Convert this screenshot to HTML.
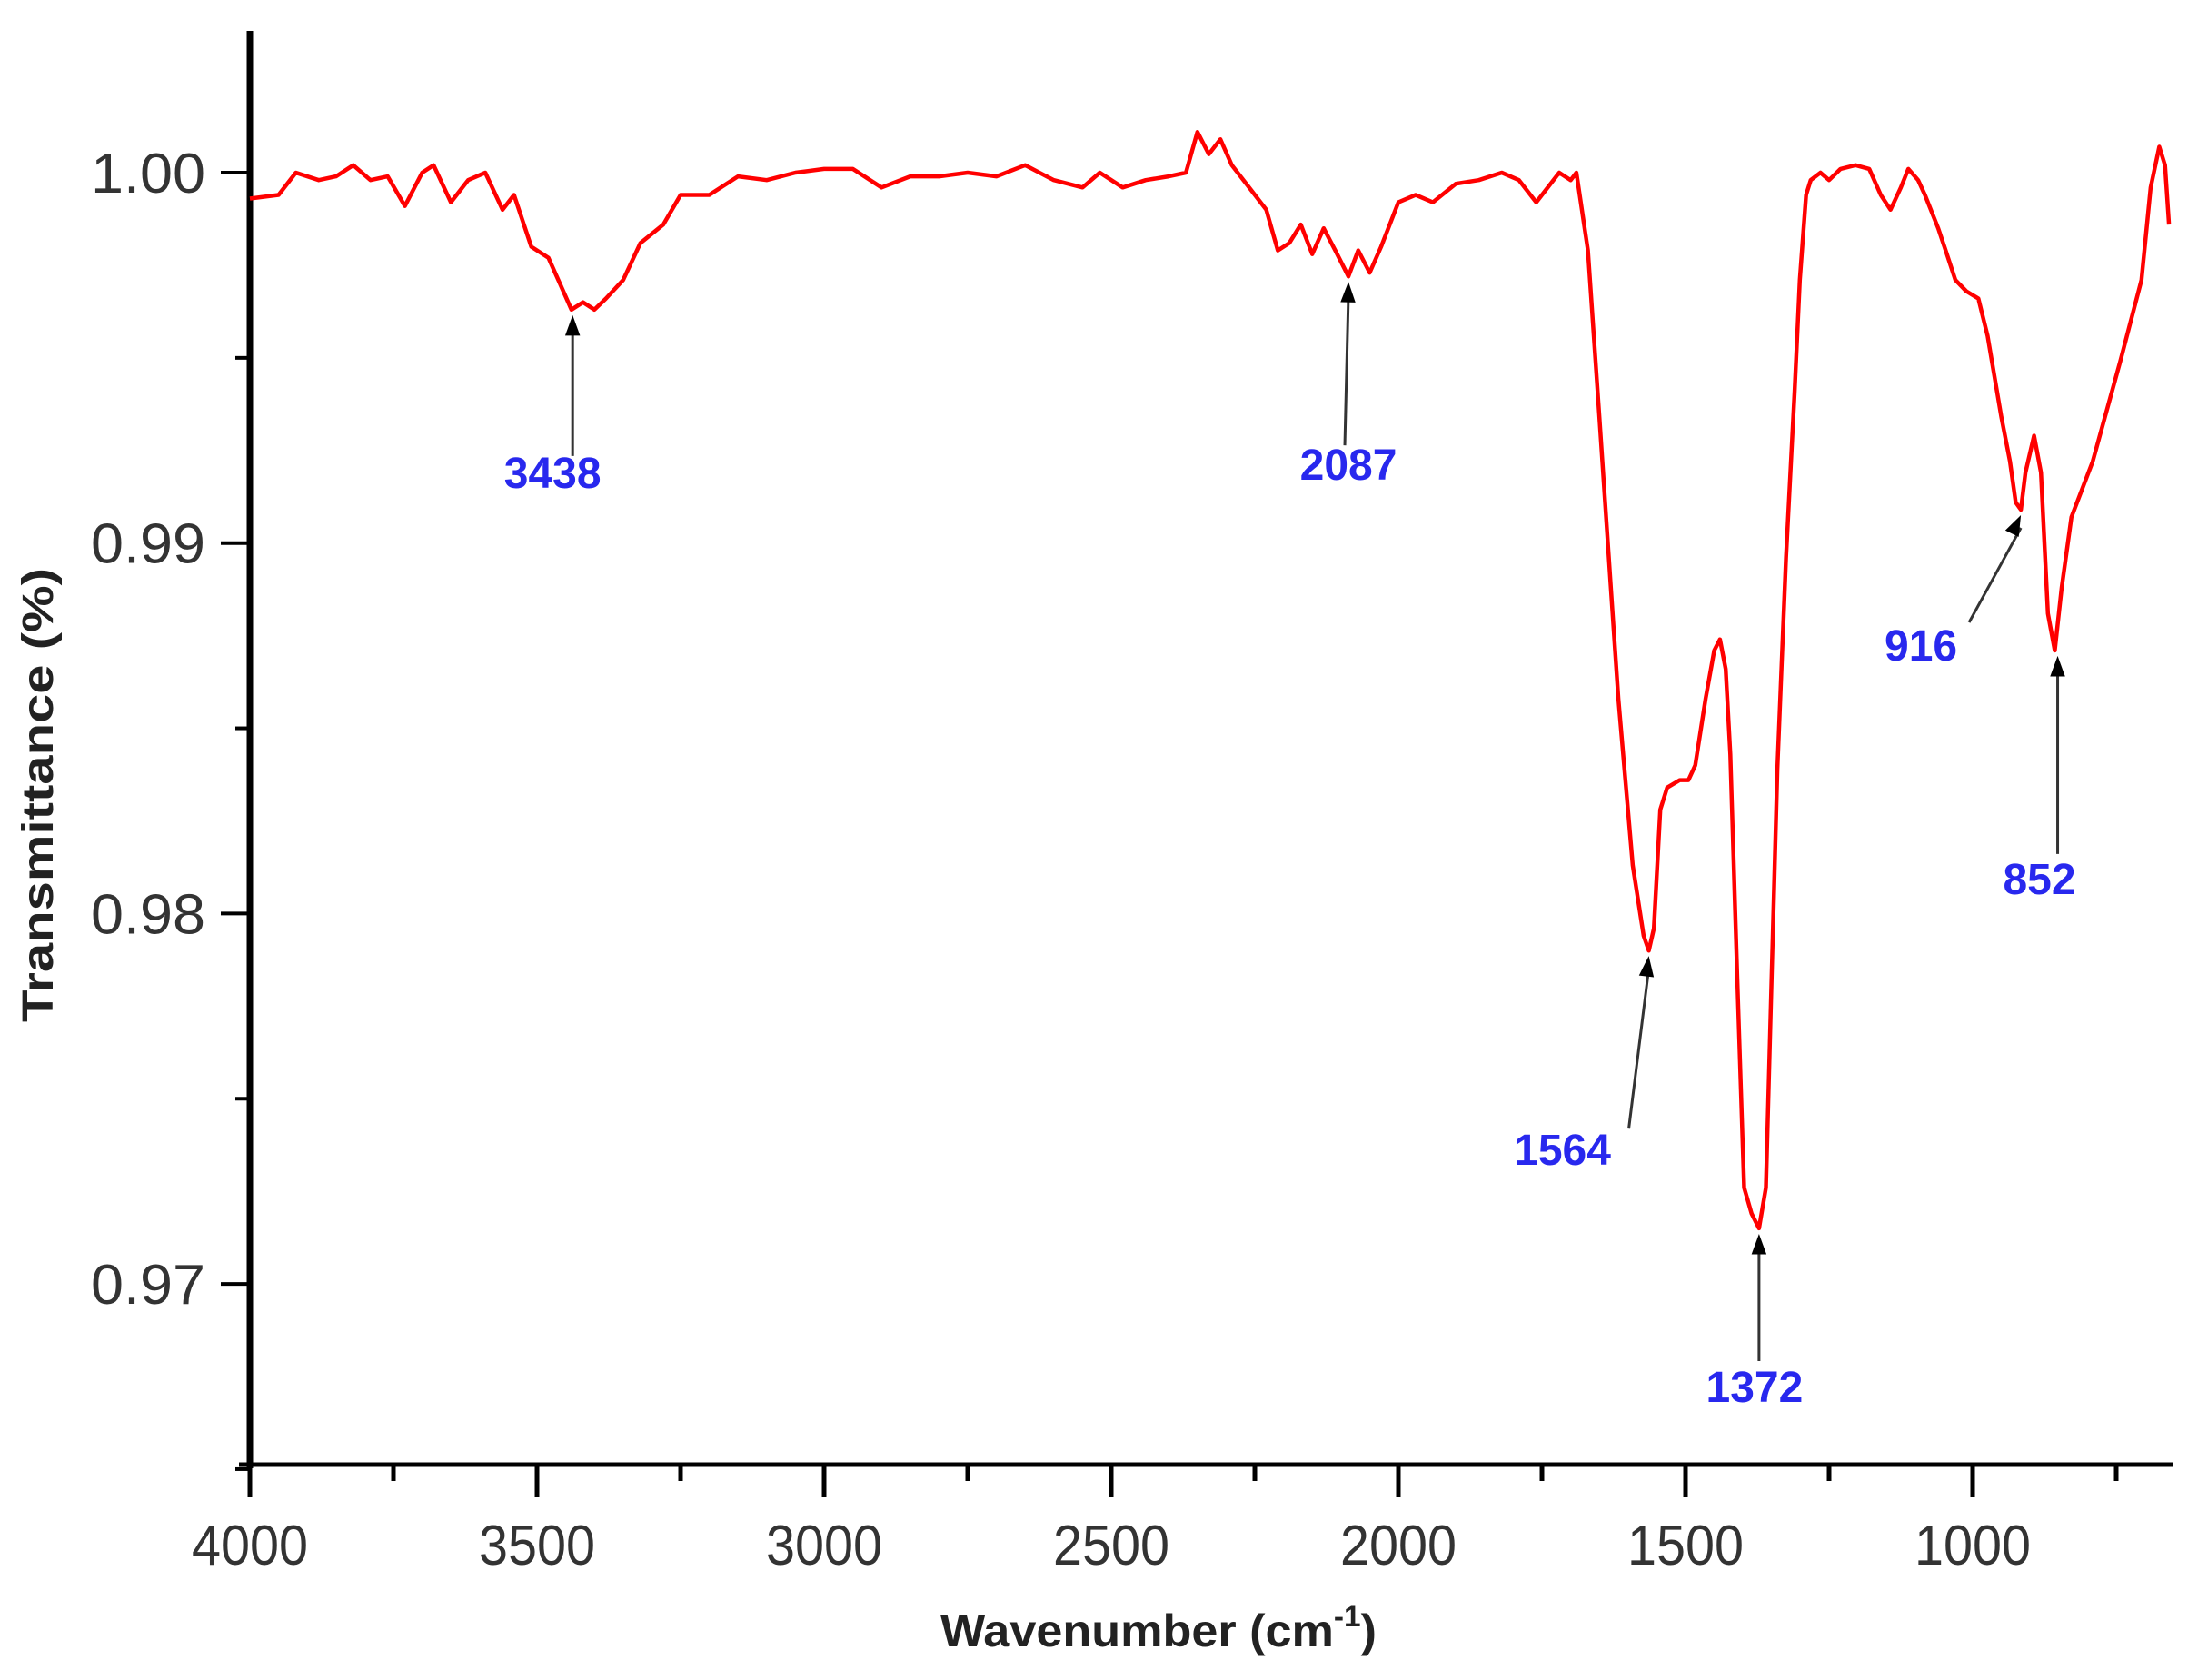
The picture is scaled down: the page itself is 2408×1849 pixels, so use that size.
<!DOCTYPE html>
<html>
<head>
<meta charset="utf-8">
<style>
html,body{margin:0;padding:0;background:#fff;}
svg{display:block;}
text{font-family:"Liberation Sans",sans-serif;}
</style>
</head>
<body>
<svg id="chart" width="2408" height="1849" viewBox="0 0 2408 1849" xmlns="http://www.w3.org/2000/svg">
<g id="axes"></g>
<g id="series"></g>
<g id="annots"></g>
<text x="1275" y="1812" text-anchor="middle" font-size="50" font-weight="bold" fill="#222" textLength="480" lengthAdjust="spacingAndGlyphs">Wavenumber (cm<tspan dy="-22" font-size="32">-1</tspan><tspan dy="22">)</tspan></text>
<text transform="translate(58,875) rotate(-90)" text-anchor="middle" font-size="48" font-weight="bold" fill="#222" textLength="500" lengthAdjust="spacingAndGlyphs">Transmittance (%)</text>
</svg>
<script>
const wavenumbers = [4000,3950,3920,3880,3850,3820,3790,3760,3730,3700,3680,3650,3620,3590,3560,3540,3510,3480,3460,3440,3420,3400,3380,3350,3320,3280,3250,3200,3150,3100,3050,3000,2950,2900,2850,2800,2750,2700,2650,2600,2550,2520,2480,2440,2400,2370,2350,2330,2310,2290,2260,2230,2210,2190,2170,2150,2130,2110,2087,2070,2050,2030,2000,1970,1940,1900,1860,1820,1790,1760,1720,1700,1690,1670,1650,1630,1617,1592,1573,1564,1555,1544,1532,1510,1495,1483,1465,1450,1440,1430,1422,1410,1398,1385,1372,1360,1350,1340,1325,1310,1301,1290,1282,1265,1250,1230,1204,1180,1160,1143,1125,1112,1095,1083,1060,1047,1030,1011,990,974,950,935,925,916,908,893,881,869,857,845,828,791,743,706,690,675,665,658];
const transmittance = [0.9993,0.9994,1.0000,0.9998,0.9999,1.0002,0.9998,0.9999,0.9991,1.0000,1.0002,0.9992,0.9998,1.0000,0.9990,0.9994,0.9980,0.9977,0.9970,0.9963,0.9965,0.9963,0.9966,0.9971,0.9981,0.9986,0.9994,0.9994,0.9999,0.9998,1.0000,1.0001,1.0001,0.9996,0.9999,0.9999,1.0000,0.9999,1.0002,0.9998,0.9996,1.0000,0.9996,0.9998,0.9999,1.0000,1.0011,1.0005,1.0009,1.0002,0.9996,0.9990,0.9979,0.9981,0.9986,0.9978,0.9985,0.9979,0.9972,0.9979,0.9973,0.9980,0.9992,0.9994,0.9992,0.9997,0.9998,1.0000,0.9998,0.9992,1.0000,0.9998,1.0000,0.9979,0.9934,0.9888,0.9858,0.9813,0.9794,0.9790,0.9796,0.9828,0.9834,0.9836,0.9836,0.9840,0.9858,0.9871,0.9874,0.9866,0.9843,0.9783,0.9726,0.9719,0.9715,0.9726,0.9783,0.9839,0.9896,0.9941,0.9971,0.9994,0.9998,1.0000,0.9998,1.0001,1.0002,1.0001,0.9994,0.9990,0.9996,1.0001,0.9998,0.9994,0.9985,0.9979,0.9971,0.9968,0.9966,0.9956,0.9934,0.9922,0.9911,0.9909,0.9919,0.9929,0.9919,0.9881,0.9871,0.9888,0.9907,0.9922,0.9949,0.9971,0.9996,1.0007,1.0002,0.9986];
const xTickValues = [4000,3500,3000,2500,2000,1500,1000];
const xTickLabels = ["4000","3500","3000","2500","2000","1500","1000"];
const yTickValues = [1.00,0.99,0.98,0.97];
const yTickLabels = ["1.00","0.99","0.98","0.97"];
const peakLabels = ["3438","2087","1564","1372","916","852"];
const peakWavenumbers = [3438,2087,1564,1372,916,852];
const peakTransmittance = [0.9963,0.9972,0.9790,0.9715,0.9909,0.9871];

const NS="http://www.w3.org/2000/svg";
const X0=275, PXPERUNIT=0.632;
const Y100=190, PXPERT=40770;
const xs = w => X0 + (4000-w)*PXPERUNIT;
const ys = t => Y100 + (1.0-t)*PXPERT;
const AXIS_Y=1612, AXIS_TOP=34, AXIS_RIGHT=2392;
function mk(tag, attrs, parent){const e=document.createElementNS(NS,tag);for(const k in attrs)e.setAttribute(k,attrs[k]);parent.appendChild(e);return e;}

const axes=document.getElementById('axes');
const yAxis = mk('line',{x1:X0,y1:AXIS_TOP,x2:X0,y2:AXIS_Y+4,stroke:'#000','stroke-width':7},axes);


const xAxis = mk('line',{x1:X0-12,y1:AXIS_Y,x2:AXIS_RIGHT,y2:AXIS_Y,stroke:'#000','stroke-width':5},axes);



for(let w=4000; w>=700; w-=250){
  const major = (w%500===0);
  const t = mk('line',{x1:xs(w),y1:AXIS_Y,x2:xs(w),y2:AXIS_Y+(major?36:18),stroke:'#000','stroke-width':5},axes);
  
  
}
xTickValues.forEach((v,i)=>{
  const t=mk('text',{x:xs(v),y:1722,'text-anchor':'middle','font-size':62,fill:'#333',textLength:128,lengthAdjust:'spacingAndGlyphs'},axes);
  t.textContent=xTickLabels[i];
  
  
});
for(let k=0;k<8;k++){
  const v=1.00-k*0.005;
  const major=(k%2===0);
  const t=mk('line',{x1:X0-(major?32:16),y1:ys(v),x2:X0,y2:ys(v),stroke:'#000','stroke-width':4},axes);
  
  
}
yTickValues.forEach((v,i)=>{
  const t=mk('text',{x:226,y:ys(v)+22,'text-anchor':'end','font-size':62,fill:'#333',textLength:126,lengthAdjust:'spacingAndGlyphs'},axes);
  t.textContent=yTickLabels[i];
  
  
});

const series=document.getElementById('series');
const d = wavenumbers.map((w,i)=>(i?'L':'M')+xs(w).toFixed(1)+','+ys(transmittance[i]).toFixed(1)).join(' ');
const path=mk('path',{d:d,fill:'none',stroke:'#ff0000','stroke-width':4.5,'stroke-linejoin':'round'},series);



const annLayout = [
  {tx:0,ty:155,lx:-22,ly:190},
  {tx:-4,ty:180,lx:0,ly:218},
  {tx:-22,ty:190,lx:-95,ly:230},
  {tx:0,ty:140,lx:-5,ly:185},
  {tx:-57,ty:118,lx:-110,ly:160},
  {tx:0,ty:218,lx:-20,ly:262}
];
const annots=document.getElementById('annots');
peakWavenumbers.forEach((w,i)=>{
  const px=xs(w), py=ys(peakTransmittance[i])+6;
  const L=annLayout[i];
  const tx=px+L.tx, ty=py+L.ty;
  const ln=mk('line',{x1:tx,y1:ty,x2:px,y2:py+14,stroke:'#333','stroke-width':3},annots);
  
  
  const ang=Math.atan2(py-ty,px-tx);
  const a1=ang+Math.PI-0.35, a2=ang+Math.PI+0.35, len=24;
  const head=mk('polygon',{points:`${px},${py} ${px+len*Math.cos(a1)},${py+len*Math.sin(a1)} ${px+len*Math.cos(a2)},${py+len*Math.sin(a2)}`,fill:'#000'},annots);
  
  
  const t=mk('text',{x:px+L.lx,y:py+L.ly,'text-anchor':'middle','font-size':48,'font-weight':'bold',fill:'#2828ee'},annots);
  t.textContent=peakLabels[i];
  
  
});
</script>
</body>
</html>
